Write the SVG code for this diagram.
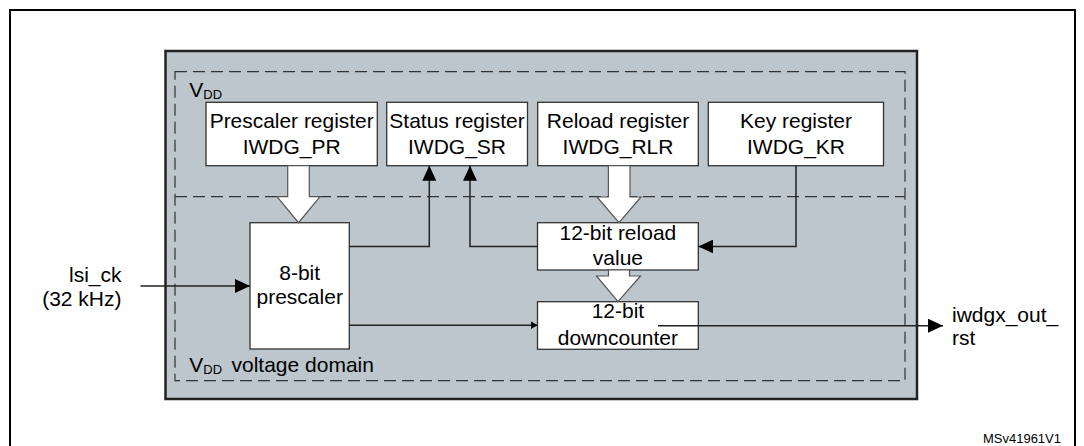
<svg xmlns="http://www.w3.org/2000/svg" width="1084" height="446" viewBox="0 0 1084 446">
<style>
text{font-family:"Liberation Sans",Arial,sans-serif;font-size:21px;fill:#000}
.c{text-anchor:middle}
.e{text-anchor:end}
.sub{font-size:13px}
.box{fill:#fff;stroke:#333;stroke-width:1.3}
.blk{fill:#fff;stroke:#555;stroke-width:1.2}
.dash{fill:none;stroke:#333;stroke-width:1.2;stroke-dasharray:12 6}
.ln{fill:none;stroke:#222;stroke-width:1.5}
</style>
<defs>
<marker id="ah" markerWidth="15" markerHeight="14" refX="15" refY="7" orient="auto" markerUnits="userSpaceOnUse"><path d="M0,0 L15,7 L0,14 z" fill="#000"/></marker>
<marker id="as" markerWidth="7" markerHeight="8" refX="7" refY="4" orient="auto" markerUnits="userSpaceOnUse"><path d="M0,0 L7,4 L0,8 z" fill="#000"/></marker>
</defs>
<rect x="10" y="10" width="1065" height="460" fill="#fff" stroke="#000" stroke-width="2"/>
<g id="iwdg">
<rect x="165.5" y="51" width="751.5" height="348" fill="#bcc6cc" stroke="#222" stroke-width="2.5"/>
<rect class="dash" x="175" y="71.7" width="730" height="309"/>
<line class="dash" x1="175" y1="196.7" x2="905" y2="196.7"/>
<text x="189.3" y="96.7">V<tspan class="sub" dy="2">DD</tspan></text>
<text x="189.3" y="371.7">V<tspan class="sub" dy="2">DD</tspan><tspan dy="-2" x="231.5">voltage domain</tspan></text>
</g>
<g id="prescaler-register">
<rect class="box" x="206" y="102.3" width="171.3" height="63.4"/>
<text class="c" x="291.7" y="128.3" textLength="164" lengthAdjust="spacingAndGlyphs">Prescaler register</text>
<text class="c" x="291.7" y="154">IWDG_PR</text>
</g>
<g id="status-register">
<rect class="box" x="386.7" y="102.3" width="140.8" height="63.4"/>
<text class="c" x="457" y="128.3">Status register</text>
<text class="c" x="457" y="154">IWDG_SR</text>
</g>
<g id="reload-register">
<rect class="box" x="537.7" y="102.3" width="160.6" height="63.4"/>
<text class="c" x="618" y="128.3">Reload register</text>
<text class="c" x="618" y="154">IWDG_RLR</text>
</g>
<g id="key-register">
<rect class="box" x="708.3" y="102.3" width="175.2" height="63.4"/>
<text class="c" x="796" y="128.3">Key register</text>
<text class="c" x="796" y="154">IWDG_KR</text>
</g>
<g id="prescaler">
<rect class="box" x="250" y="222.7" width="99.3" height="126.3"/>
<text class="c" x="299.7" y="280">8-bit</text>
<text class="c" x="299.7" y="304.3">prescaler</text>
</g>
<g id="reload-value">
<rect class="box" x="537.5" y="222.7" width="160.8" height="47.3"/>
<text class="c" x="617.9" y="240">12-bit reload</text>
<text class="c" x="617.9" y="265">value</text>
</g>
<g id="downcounter">
<rect class="box" x="537.5" y="301.7" width="160.8" height="47.6"/>
<text class="c" x="617.9" y="318.3">12-bit</text>
<text class="c" x="617.9" y="345">downcounter</text>
</g>
<g id="lsi">
<text class="e" x="121.5" y="282">lsi_ck</text>
<text class="e" x="121.5" y="306">(32 kHz)</text>
</g>
<g id="out">
<text x="952" y="322">iwdgx_out_</text>
<text x="952" y="345">rst</text>
</g>
<g id="connectors">
<polygon class="blk" points="287.7,165.7 309.3,165.7 309.3,196.7 320,196.7 298.5,222.7 277,196.7 287.7,196.7"/>
<polygon class="blk" points="608.4,165.7 630,165.7 630,197 641,197 619,222.7 597,197 608.4,197"/>
<polygon class="blk" points="608.5,270 629.5,270 629.5,276 640.5,276 618,301.7 596.5,276 608.5,276"/>
<path class="ln" d="M140.5,286 H250" marker-end="url(#ah)"/>
<path class="ln" d="M349.3,246.5 H429.3 V165.7" marker-end="url(#ah)"/>
<path class="ln" d="M537.5,246.5 H470 V165.7" marker-end="url(#ah)"/>
<path class="ln" d="M796,165.7 V246.5 H698.3" marker-end="url(#ah)"/>
<path class="ln" d="M349.3,325.3 H537.5" marker-end="url(#as)"/>
<path class="ln" d="M658,325.7 H943" marker-end="url(#ah)"/>
</g>
<text class="e" x="1061" y="443" style="font-size:13px">MSv41961V1</text>
</svg>
